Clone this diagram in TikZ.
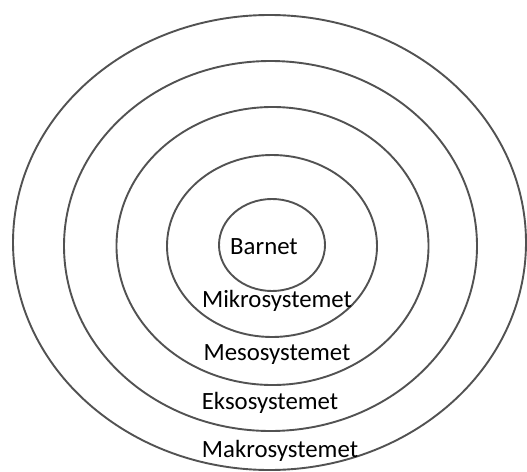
\documentclass[tikz,border=0pt]{standalone}
\usepackage{fontspec}
\setmainfont{Carlito}
\begin{document}
\begin{tikzpicture}[x=1pt,y=-1pt,
  ring/.style={draw=black!68,line width=1.9pt},
  lbl/.style={font=\fontsize{24.8}{27}\selectfont,text=black,inner sep=0pt}]
\useasboundingbox (0,0) rectangle (527,471);
\draw[ring] (269.5,242.5) ellipse [x radius=256.5,y radius=227.5];
\draw[ring] (270.5,246) ellipse [x radius=206.5,y radius=185];
\draw[ring] (272.5,246) ellipse [x radius=156,y radius=139];
\draw[ring] (272,246) ellipse [x radius=105,y radius=91];
\draw[ring] (272,245) ellipse [x radius=53,y radius=46];
\node[lbl] (barn) at (264,247) {Barnet};
\node[lbl] (mikro) at (277,301) {Mikrosystemet};
\node[lbl] (meso) at (277,355) {Mesosystemet};
\node[lbl] (ekso) at (270,403) {Eksosystemet};
\node[lbl] (makro) at (280,451) {Makrosystemet};
\end{tikzpicture}
\end{document}
